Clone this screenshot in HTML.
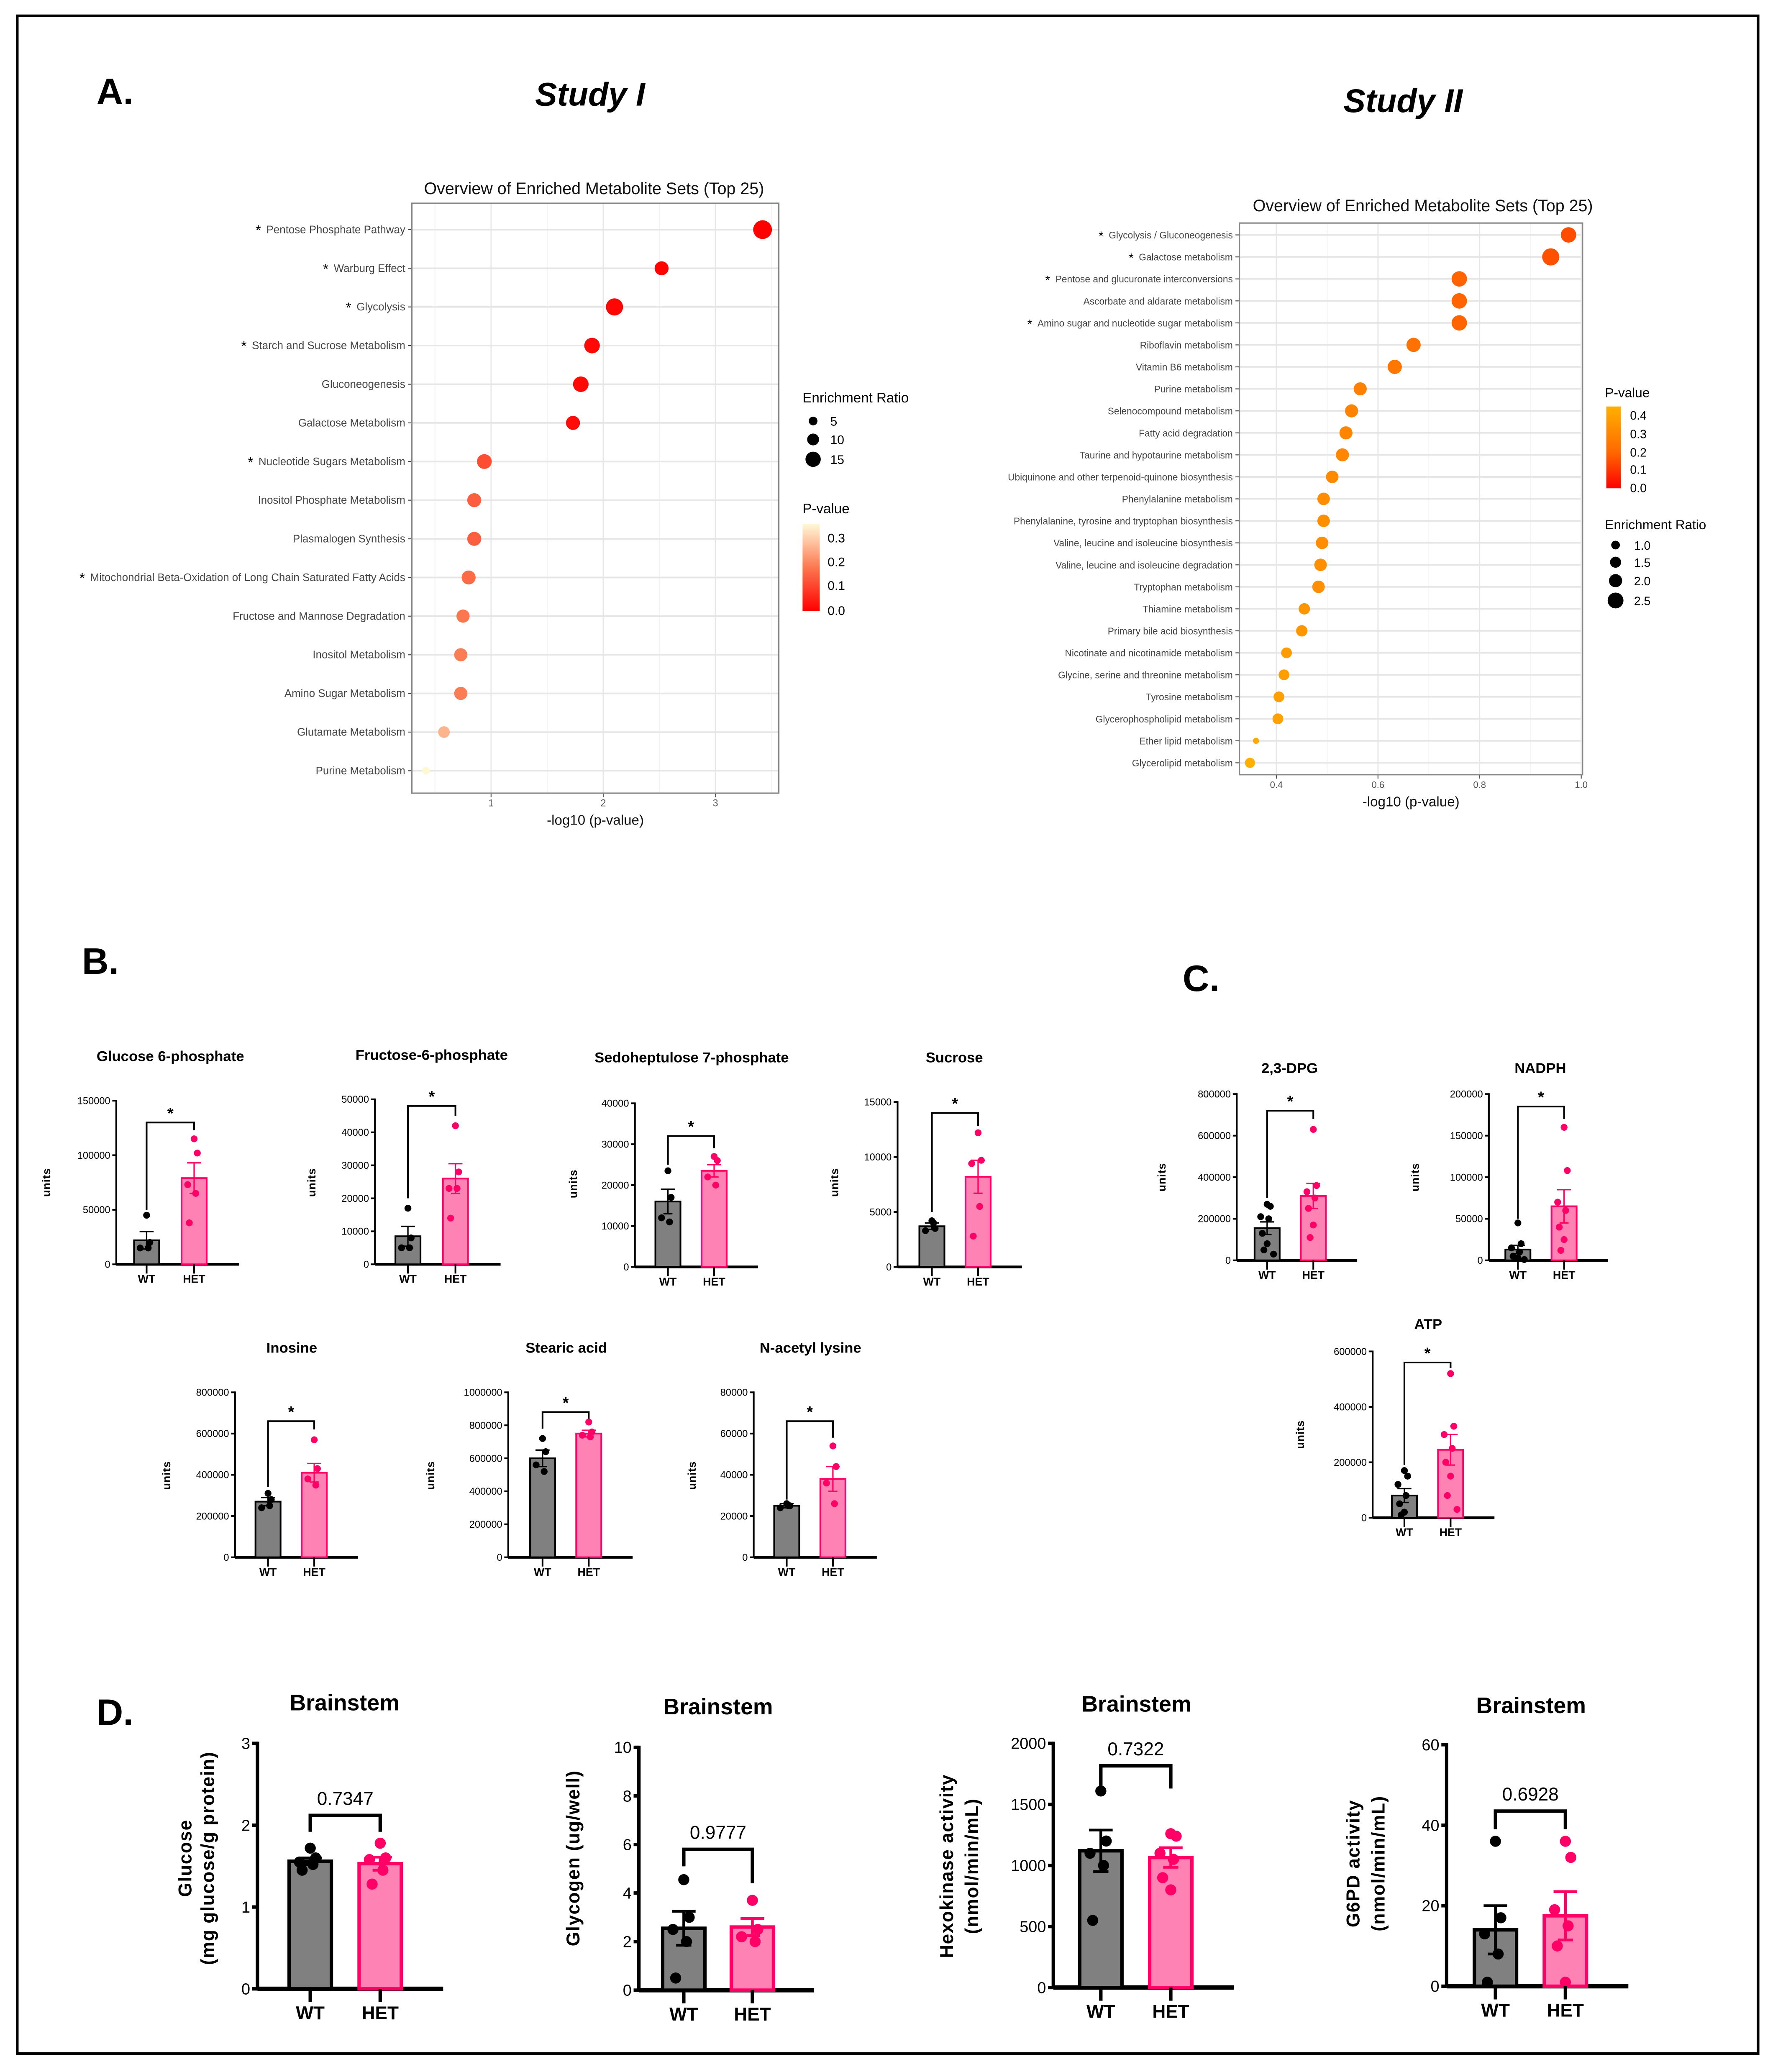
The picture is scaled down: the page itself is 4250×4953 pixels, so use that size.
<!DOCTYPE html>
<html><head><meta charset="utf-8"><style>
html,body{margin:0;padding:0;background:#fff}
svg{display:block}
text{font-family:"Liberation Sans",Arial,sans-serif}
</style></head><body>
<svg id="root" xmlns="http://www.w3.org/2000/svg" width="4250" height="4953" viewBox="0 0 1347 1570">
<rect x="13" y="12" width="1319" height="1544" fill="#fff" stroke="#000" stroke-width="2"/>
<text x="73" y="79" font-size="28" font-weight="bold">A.</text>
<text x="447" y="80" font-size="25" font-weight="bold" font-style="italic" text-anchor="middle">Study I</text>
<text x="1063" y="85" font-size="25" font-weight="bold" font-style="italic" text-anchor="middle">Study II</text>
<text x="62" y="738" font-size="28" font-weight="bold">B.</text>
<text x="896" y="751" font-size="28" font-weight="bold">C.</text>
<text x="73" y="1307" font-size="28" font-weight="bold">D.</text>
<g id="charts"></g>
</svg>
<script>
// ---------- Study I data ----------
const s1Labels=["Pentose Phosphate Pathway","Warburg Effect","Glycolysis","Starch and Sucrose Metabolism","Gluconeogenesis","Galactose Metabolism","Nucleotide Sugars Metabolism","Inositol Phosphate Metabolism","Plasmalogen Synthesis","Mitochondrial Beta-Oxidation of Long Chain Saturated Fatty Acids","Fructose and Mannose Degradation","Inositol Metabolism","Amino Sugar Metabolism","Glutamate Metabolism","Purine Metabolism"];
const s1Star=[1,1,1,1,0,0,1,0,0,1,0,0,0,0,0];
const s1Values=[3.42,2.52,2.1,1.9,1.8,1.73,0.94,0.85,0.85,0.8,0.75,0.73,0.73,0.58,0.42];
const s1Ratio=[17,11,15,13,13,11,12,11,11,11,10,10,10,8,3];
const s1Ticks=[1,2,3];
// ---------- Study II data ----------
const s2Labels=["Glycolysis / Gluconeogenesis","Galactose metabolism","Pentose and glucuronate interconversions","Ascorbate and aldarate metabolism","Amino sugar and nucleotide sugar metabolism","Riboflavin metabolism","Vitamin B6 metabolism","Purine metabolism","Selenocompound metabolism","Fatty acid degradation","Taurine and hypotaurine metabolism","Ubiquinone and other terpenoid-quinone biosynthesis","Phenylalanine metabolism","Phenylalanine, tyrosine and tryptophan biosynthesis","Valine, leucine and isoleucine biosynthesis","Valine, leucine and isoleucine degradation","Tryptophan metabolism","Thiamine metabolism","Primary bile acid biosynthesis","Nicotinate and nicotinamide metabolism","Glycine, serine and threonine metabolism","Tyrosine metabolism","Glycerophospholipid metabolism","Ether lipid metabolism","Glycerolipid metabolism"];
const s2Star=[1,1,1,0,1,0,0,0,0,0,0,0,0,0,0,0,0,0,0,0,0,0,0,0,0];
const s2Values=[0.975,0.94,0.76,0.76,0.76,0.67,0.633,0.565,0.548,0.537,0.53,0.51,0.493,0.493,0.49,0.487,0.483,0.455,0.45,0.42,0.415,0.405,0.403,0.36,0.348];
const s2Ratio=[2.2,2.5,2.2,2.2,2.2,2.0,2.0,1.8,1.8,1.8,1.8,1.7,1.7,1.7,1.7,1.7,1.7,1.5,1.5,1.4,1.4,1.4,1.4,0.6,1.3];
const s2Ticks=[0.4,0.6,0.8,1.0];

// ---------- Bar chart data ----------
const g6pMeans=[22000,79000], g6pSem=[8000,14000], g6pWT=[45000,20000,15000,15000], g6pHET=[115000,102000,73000,65000,38000];
const f6pMeans=[8500,26000], f6pSem=[3000,4500], f6pWT=[17000,8000,5000,5000], f6pHET=[42000,28000,23000,23000,14000];
const s7pMeans=[16000,23500], s7pSem=[3000,1500], s7pWT=[23500,17000,12000,11000], s7pHET=[27000,26000,22000,20000];
const sucMeans=[3700,8200], sucSem=[300,1500], sucWT=[4200,3500,3300,4000], sucHET=[12200,9700,9400,5500,2800];
const inoMeans=[270000,410000], inoSem=[20000,45000], inoWT=[310000,280000,240000,250000], inoHET=[570000,430000,380000,350000];
const steMeans=[600000,750000], steSem=[50000,20000], steWT=[720000,640000,560000,520000], steHET=[820000,760000,740000,730000];
const nalMeans=[25000,38000], nalSem=[1000,6000], nalWT=[26000,25000,24000,25000], nalHET=[54000,44000,36000,26000];
const dpgMeans=[155000,310000], dpgSem=[30000,60000], dpgWT=[270000,260000,210000,200000,130000,80000,50000,30000], dpgHET=[630000,360000,330000,300000,250000,170000,110000];
const nadMeans=[13000,65000], nadSem=[5000,20000], nadWT=[45000,20000,15000,10000,5000,3000,2000,1000], nadHET=[160000,108000,70000,60000,40000,25000,12000];
const atpMeans=[80000,245000], atpSem=[25000,55000], atpWT=[170000,150000,120000,80000,50000,20000,10000], atpHET=[520000,330000,300000,250000,200000,150000,80000,30000];
const gluMeans=[1.56,1.53], gluSem=[0.04,0.08], gluWT=[1.72,1.6,1.55,1.52,1.45], gluHET=[1.78,1.6,1.58,1.45,1.28];
const glyMeans=[2.55,2.6], glySem=[0.7,0.35], glyWT=[4.55,3.0,2.5,2.0,0.5], glyHET=[3.7,2.5,2.2,2.0];
const hexMeans=[1120,1065], hexSem=[170,80], hexWT=[1610,1200,1100,1000,550], hexHET=[1260,1240,1100,1050,900,800];
const g6dMeans=[14,17.5], g6dSem=[6,6], g6dWT=[36,17,13,8,1], g6dHET=[36,32,19,15,10,1];
const b1Ticks=[0,50000,100000,150000], b2Ticks=[0,10000,20000,30000,40000,50000], b3Ticks=[0,10000,20000,30000,40000], b4Ticks=[0,5000,10000,15000];
const b5Ticks=[0,200000,400000,600000,800000], b6Ticks=[0,200000,400000,600000,800000,1000000], b7Ticks=[0,20000,40000,60000,80000];
const c1Ticks=[0,200000,400000,600000,800000], c2Ticks=[0,50000,100000,150000,200000], c3Ticks=[0,200000,400000,600000];
const d1Ticks=[0,1,2,3], d2Ticks=[0,2,4,6,8,10], d3Ticks=[0,500,1000,1500,2000], d4Ticks=[0,20,40,60];

const NS="http://www.w3.org/2000/svg";
const root=document.getElementById('charts');
function mk(tag,attrs,parent,txt){const e=document.createElementNS(NS,tag);for(const k in attrs)e.setAttribute(k,attrs[k]);if(txt!==undefined)e.textContent=txt;(parent||root).appendChild(e);return e;}
function lerp(a,b,t){return a+(b-a)*t}
function mixColor(c1,c2,t){return 'rgb('+c1.map((v,i)=>Math.round(lerp(v,c2[i],t))).join(',')+')';}

// ---------- dot plots ----------
function dotPlot(o){
  const g=mk('g',{});
  
  
  const xs=v=>o.px0+(v-o.v0)*o.pxPerUnit;
  const n=o.labels.length, ry=i=>o.rowTop+i*(o.rowBot-o.rowTop)/(n-1);
  mk('text',{x:o.titleX,y:o.titleY,'font-size':12.5,'text-anchor':'middle',fill:'#111'},g,'Overview of Enriched Metabolite Sets (Top 25)');
  for(let v=o.minorStart;v<=o.xmax;v+=o.minorStep){const x=xs(v);if(x>o.bx0&&x<o.bx1)mk('line',{x1:x,x2:x,y1:o.by0,y2:o.by1,stroke:'#f2f2f2','stroke-width':0.6},g);}
  o.ticks.forEach(t=>{const x=xs(t);mk('line',{x1:x,x2:x,y1:o.by0,y2:o.by1,stroke:'#e6e6e6','stroke-width':0.9},g);mk('line',{x1:x,x2:x,y1:o.by1,y2:o.by1+3,stroke:'#555','stroke-width':0.7},g);
    const t1=mk('text',{x:x,y:o.by1+10,'font-size':o.tickFs,'text-anchor':'middle',fill:'#555'},g,o.tickFmt(t));});
  o.labels.forEach((lab,i)=>{const y=ry(i);mk('line',{x1:o.bx0,x2:o.bx1,y1:y,y2:y,stroke:'#e6e6e6','stroke-width':1.2},g);
    mk('line',{x1:o.bx0-3,x2:o.bx0,y1:y,y2:y,stroke:'#444','stroke-width':0.7},g);
    const t=mk('text',{x:o.bx0-5,y:y+2.7,'font-size':o.labFs,'text-anchor':'end',fill:'#444','font-family':o.font},g,lab);
    
    if(o.star[i]){const w=t.getComputedTextLength?t.getComputedTextLength():lab.length*o.labFs*0.5;
      mk('text',{x:o.bx0-5-w-4,y:y+4,'font-size':o.labFs*1.3,'text-anchor':'end',fill:'#000'},g,'*');}});
  mk('rect',{x:o.bx0,y:o.by0,width:o.bx1-o.bx0,height:o.by1-o.by0,fill:'none',stroke:'#888','stroke-width':1},g);
  o.values.forEach((v,i)=>{const c=mk('circle',{cx:xs(v),cy:ry(i),r:o.rad(o.ratio[i]),fill:o.col(Math.pow(10,-v))},g);
    });
  const xl=mk('text',{x:(o.bx0+o.bx1)/2,y:o.by1+24,'font-size':10.5,'text-anchor':'middle',fill:'#111'},g,'-log10 (p-value)');
  
  return g;
}
const colS1=p=>{const t=Math.min(p/0.36,1);return t<0.5?mixColor([255,0,0],[252,120,80],t/0.5):mixColor([252,120,80],[255,248,210],(t-0.5)/0.5);};
dotPlot({name:'study-1-dotplot',labels:s1Labels,star:s1Star,values:s1Values,ratio:s1Ratio,ticks:s1Ticks,
 px0:372,v0:1,pxPerUnit:85,bx0:312,bx1:590,by0:154,by1:601,rowTop:174,rowBot:584,titleX:450,titleY:147,
 minorStart:0.5,minorStep:0.5,xmax:3.5,tickFs:7.5,labFs:8.2,font:'"Liberation Sans",sans-serif',tickFmt:t=>t,
 rad:r=>2+r*0.3,col:colS1});
const colS2=p=>{const t=Math.min(p/0.45,1);return t<0.45?mixColor([255,40,0],[255,110,0],t/0.45):mixColor([255,110,0],[255,175,0],(t-0.45)/0.55);};
dotPlot({name:'study-2-dotplot',labels:s2Labels,star:s2Star,values:s2Values,ratio:s2Ratio,ticks:s2Ticks,
 px0:967,v0:0.4,pxPerUnit:385,bx0:939,bx1:1199,by0:169,by1:587,rowTop:178,rowBot:578,titleX:1078,titleY:160,
 minorStart:0.3,minorStep:0.1,xmax:1.05,tickFs:7,labFs:7.2,font:'"DejaVu Sans",sans-serif',tickFmt:t=>t.toFixed(1),
 rad:r=>1+r*2.2,col:colS2});

// legends
(function(){
  const g=mk('g',{});
  mk('text',{x:608,y:305,'font-size':10.5},g,'Enrichment Ratio');
  [[5,319,3.3],[10,333,4.5],[15,348,5.8]].forEach(a=>{mk('circle',{cx:616,cy:a[1],r:a[2]},g);mk('text',{x:629,y:a[1]+3.5,'font-size':9.5},g,a[0]);});
  mk('text',{x:608,y:389,'font-size':10.5},g,'P-value');
  const d=mk('defs',{},g);const lg=mk('linearGradient',{id:'g1',x1:0,y1:1,x2:0,y2:0},d);
  mk('stop',{offset:0,'stop-color':'#ff0000'},lg);mk('stop',{offset:0.5,'stop-color':'#fc7850'},lg);mk('stop',{offset:1,'stop-color':'#fff8d8'},lg);
  mk('rect',{x:608,y:397,width:13,height:66,fill:'url(#g1)'},g);
  [['0.3',411],['0.2',429],['0.1',447],['0.0',466]].forEach(a=>mk('text',{x:627,y:a[1],'font-size':9.5},g,a[0]));
  const g2=mk('g',{});
  mk('text',{x:1216,y:301,'font-size':10},g2,'P-value');
  const d2=mk('defs',{},g2);const lg2=mk('linearGradient',{id:'g2',x1:0,y1:1,x2:0,y2:0},d2);
  mk('stop',{offset:0,'stop-color':'#ff0000'},lg2);mk('stop',{offset:0.45,'stop-color':'#ff6a00'},lg2);mk('stop',{offset:1,'stop-color':'#ffb000'},lg2);
  mk('rect',{x:1217,y:308,width:11,height:62,fill:'url(#g2)'},g2);
  [['0.4',318],['0.3',332],['0.2',346],['0.1',359],['0.0',373]].forEach(a=>mk('text',{x:1235,y:a[1],'font-size':9},g2,a[0]));
  mk('text',{x:1216,y:401,'font-size':10},g2,'Enrichment Ratio');
  [['1.0',413,3.3],['1.5',426,4.2],['2.0',440,5],['2.5',455,6]].forEach(a=>{mk('circle',{cx:1224,cy:a[1],r:a[2]},g2);mk('text',{x:1238,y:a[1]+3.5,'font-size':9},g2,a[0]);});
})();

// ---------- bar charts ----------
function fmt(v){return String(v);}
function barChart(o){
  const g=mk('g',{});
  
  
  const big=o.big;
  const ys=v=>o.y0-v/o.ymax*(o.y0-o.yTop);
  const sw=big?2.6:1.3, bw=big?32:19, tickLen=big?4:3, fs=big?12:7.5, pr=big?4.2:2.6;
  const tt=mk('text',{x:o.tx,y:o.ty,'font-size':big?17:11,'font-weight':'bold','text-anchor':'middle'},g,o.title);
  
  mk('line',{x1:o.ax,x2:o.ax,y1:o.yTop-sw/2,y2:o.y0,stroke:'#000','stroke-width':sw},g);
  const xEnd=o.cx[1]+(o.cx[1]-o.cx[0])*(big?0.9:0.95);
  mk('line',{x1:o.ax,x2:xEnd,y1:o.y0,y2:o.y0,stroke:'#000','stroke-width':sw*(big?1.3:1.6)},g);
  o.ticks.forEach(t=>{const y=ys(t);mk('line',{x1:o.ax-tickLen,x2:o.ax,y1:y,y2:y,stroke:'#000','stroke-width':sw},g);
    const tl=mk('text',{x:o.ax-tickLen-1.5,y:y+fs*0.35,'font-size':fs,'text-anchor':'end'},g,fmt(t));
    });
  o.ylab.forEach((l,i)=>{const x=o.ylx[i];const t=mk('text',{x:x,y:o.yly,'font-size':big?14:8.5,'font-weight':'bold','text-anchor':'middle',transform:`rotate(-90 ${x} ${o.yly})`,'letter-spacing':big?0.5:0.3},g,l);
    });
  const groups=['WT','HET'], fills=['#808080','#ff82b4'], strokes=['#000','#ff0066'], pts=[o.wt,o.het];
  groups.forEach((gn,i)=>{
    const cx=o.cx[i], top=ys(o.means[i]);
    const b=mk('rect',{x:cx-bw/2,y:top,width:bw,height:o.y0-top,fill:fills[i],stroke:strokes[i],'stroke-width':sw},g);
    
    const e1=ys(o.means[i]+o.sem[i]), e2=ys(o.means[i]-o.sem[i]);
    mk('line',{x1:cx,x2:cx,y1:e1,y2:e2,stroke:strokes[i],'stroke-width':sw*0.8},g);
    mk('line',{x1:cx-bw*0.28,x2:cx+bw*0.28,y1:e1,y2:e1,stroke:strokes[i],'stroke-width':sw*0.8},g);
    mk('line',{x1:cx-bw*0.18,x2:cx+bw*0.18,y1:e2,y2:e2,stroke:strokes[i],'stroke-width':sw*0.8},g);
    pts[i].forEach((v,j)=>{const n=pts[i].length;const off=(n>1?(j%2?1:-1)*((j*37)%5)/5*bw*0.32:0);
      const c=mk('circle',{cx:cx+off,cy:ys(v),r:pr,fill:strokes[i]},g);
      });
    mk('line',{x1:cx,x2:cx,y1:o.y0,y2:o.y0+(big?10:7),stroke:'#000','stroke-width':sw},g);
    const xl=mk('text',{x:cx,y:o.y0+(big?23:14),'font-size':big?14:8.5,'font-weight':'bold','text-anchor':'middle'},g,gn);
    
  });
  const by=ys(o.bracket);
  const lw=o.bracketTop.map(v=>ys(v));
  mk('path',{d:`M${o.cx[0]},${lw[0]} L${o.cx[0]},${by} L${o.cx[1]},${by} L${o.cx[1]},${lw[1]}`,fill:'none',stroke:'#000','stroke-width':sw},g);
  const st=mk('text',{x:(o.cx[0]+o.cx[1])/2,y:by-(big?8:3),'font-size':big?14:12,'font-weight':big?'normal':'bold','text-anchor':'middle'},g,o.sig);
  
}
const U=['units'];
barChart({name:'chart-glucose-6-phosphate',title:'Glucose 6-phosphate',tx:129,ty:804,ax:88,yTop:834,y0:958,ymax:150000,ticks:b1Ticks,cx:[111,147],means:g6pMeans,sem:g6pSem,wt:g6pWT,het:g6pHET,bracket:130000,bracketTop:[50000,123000],sig:'*',ylab:U,ylx:[38],yly:896});
barChart({name:'chart-fructose-6-phosphate',title:'Fructose-6-phosphate',tx:327,ty:803,ax:284,yTop:833,y0:958,ymax:50000,ticks:b2Ticks,cx:[309,345],means:f6pMeans,sem:f6pSem,wt:f6pWT,het:f6pHET,bracket:48000,bracketTop:[20000,45000],sig:'*',ylab:U,ylx:[239],yly:896});
barChart({name:'chart-sedoheptulose-7-phosphate',title:'Sedoheptulose 7-phosphate',tx:524,ty:805,ax:481,yTop:836,y0:960,ymax:40000,ticks:b3Ticks,cx:[506,541],means:s7pMeans,sem:s7pSem,wt:s7pWT,het:s7pHET,bracket:32000,bracketTop:[25000,29000],sig:'*',ylab:U,ylx:[437],yly:897});
barChart({name:'chart-sucrose',title:'Sucrose',tx:723,ty:805,ax:680,yTop:835,y0:960,ymax:15000,ticks:b4Ticks,cx:[706,741],means:sucMeans,sem:sucSem,wt:sucWT,het:sucHET,bracket:14000,bracketTop:[5000,12800],sig:'*',ylab:U,ylx:[635],yly:896});
barChart({name:'chart-inosine',title:'Inosine',tx:221,ty:1025,ax:178,yTop:1055,y0:1180,ymax:800000,ticks:b5Ticks,cx:[203,238],means:inoMeans,sem:inoSem,wt:inoWT,het:inoHET,bracket:660000,bracketTop:[340000,620000],sig:'*',ylab:U,ylx:[129],yly:1118});
barChart({name:'chart-stearic-acid',title:'Stearic acid',tx:429,ty:1025,ax:385,yTop:1055,y0:1180,ymax:1000000,ticks:b6Ticks,cx:[411,446],means:steMeans,sem:steSem,wt:steWT,het:steHET,bracket:880000,bracketTop:[780000,840000],sig:'*',ylab:U,ylx:[329],yly:1118});
barChart({name:'chart-n-acetyl-lysine',title:'N-acetyl lysine',tx:614,ty:1025,ax:571,yTop:1055,y0:1180,ymax:80000,ticks:b7Ticks,cx:[596,631],means:nalMeans,sem:nalSem,wt:nalWT,het:nalHET,bracket:66000,bracketTop:[28000,58000],sig:'*',ylab:U,ylx:[527],yly:1118});
barChart({name:'chart-2-3-dpg',title:'2,3-DPG',tx:977,ty:813,ax:937,yTop:829,y0:955,ymax:800000,ticks:c1Ticks,cx:[960,995],means:dpgMeans,sem:dpgSem,wt:dpgWT,het:dpgHET,bracket:720000,bracketTop:[300000,680000],sig:'*',ylab:U,ylx:[883],yly:892});
barChart({name:'chart-nadph',title:'NADPH',tx:1167,ty:813,ax:1128,yTop:829,y0:955,ymax:200000,ticks:c2Ticks,cx:[1150,1185],means:nadMeans,sem:nadSem,wt:nadWT,het:nadHET,bracket:185000,bracketTop:[50000,170000],sig:'*',ylab:U,ylx:[1075],yly:892});
barChart({name:'chart-atp',title:'ATP',tx:1082,ty:1007,ax:1040,yTop:1024,y0:1150,ymax:600000,ticks:c3Ticks,cx:[1064,1099],means:atpMeans,sem:atpSem,wt:atpWT,het:atpHET,bracket:560000,bracketTop:[190000,540000],sig:'*',ylab:U,ylx:[988],yly:1087});
barChart({name:'chart-brainstem-glucose',big:true,title:'Brainstem',tx:261,ty:1296,ax:195,yTop:1321,y0:1507,ymax:3,ticks:d1Ticks,cx:[235,288],means:gluMeans,sem:gluSem,wt:gluWT,het:gluHET,bracket:2.12,bracketTop:[1.92,1.92],sig:'0.7347',ylab:['Glucose','(mg glucose/g protein)'],ylx:[145,162],yly:1408});
barChart({name:'chart-brainstem-glycogen',big:true,title:'Brainstem',tx:544,ty:1299,ax:484,yTop:1324,y0:1508,ymax:10,ticks:d2Ticks,cx:[518,570],means:glyMeans,sem:glySem,wt:glyWT,het:glyHET,bracket:5.8,bracketTop:[5.1,4.4],sig:'0.9777',ylab:['Glycogen (ug/well)'],ylx:[439],yly:1408});
barChart({name:'chart-brainstem-hexokinase',big:true,title:'Brainstem',tx:861,ty:1297,ax:798,yTop:1321,y0:1506,ymax:2000,ticks:d3Ticks,cx:[834,887],means:hexMeans,sem:hexSem,wt:hexWT,het:hexHET,bracket:1816,bracketTop:[1630,1630],sig:'0.7322',ylab:['Hexokinase activity','(nmol/min/mL)'],ylx:[722,741],yly:1414});
barChart({name:'chart-brainstem-g6pd',big:true,title:'Brainstem',tx:1160,ty:1298,ax:1096,yTop:1322,y0:1505,ymax:60,ticks:d4Ticks,cx:[1133,1186],means:g6dMeans,sem:g6dSem,wt:g6dWT,het:g6dHET,bracket:43.5,bracketTop:[39,39],sig:'0.6928',ylab:['G6PD activity','(nmol/min/mL)'],ylx:[1030,1049],yly:1412});
</script>
</body></html>
